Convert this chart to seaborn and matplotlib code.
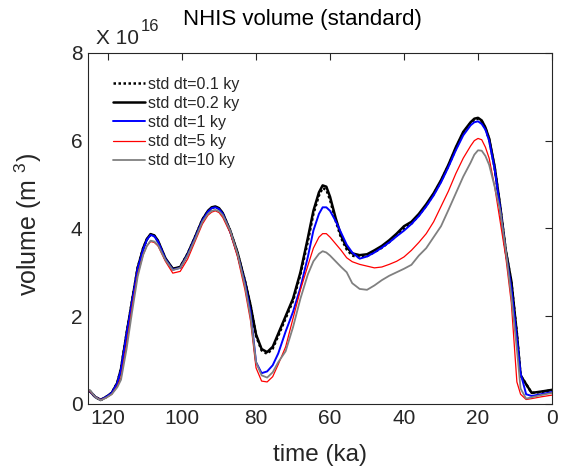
import numpy as np
import pandas as pd
import matplotlib
matplotlib.use("Agg")
import matplotlib.pyplot as plt
import seaborn as sns

# time (ka)
time_ka = [125, 123.5, 122, 120.5, 119, 117.5, 116.5, 115, 113.5, 112,
           110.5, 109.5, 108.5, 107.5, 106.5, 104.5, 102.5, 100.5, 98.5, 96.5,
           94.5, 93, 92, 91, 90, 89, 87, 85, 83, 81.5,
           80, 78.5, 77, 75.5, 74, 72, 70, 68, 66, 64.5,
           63, 62, 61, 60, 58.5, 57, 55.5, 54, 52, 50,
           48, 46, 44, 42, 40, 38, 36, 34, 32, 30,
           28, 26, 24, 22, 21, 20, 19, 18, 17, 15.5,
           14, 12.5, 11, 9.5, 8.5, 7, 5.5, 3, 0]

# volumes (x 1e16 m^3)
std_dt_0_1 = [0.30, 0.16, 0.09, 0.16, 0.25, 0.48, 0.80, 1.60, 2.35, 3.10,
              3.55, 3.75, 3.86, 3.83, 3.70, 3.30, 3.07, 3.12, 3.42, 3.80,
              4.20, 4.39, 4.47, 4.49, 4.45, 4.34, 3.95, 3.43, 2.80, 2.25,
              1.55, 1.22, 1.14, 1.26, 1.55, 1.95, 2.35, 2.95, 3.70, 4.33,
              4.75, 4.92, 4.88, 4.65, 4.18, 3.78, 3.52, 3.38, 3.34, 3.37,
              3.46, 3.56, 3.69, 3.84, 4.00, 4.11, 4.30, 4.52, 4.78, 5.08,
              5.43, 5.82, 6.18, 6.40, 6.48, 6.50, 6.44, 6.28, 6.03, 5.38,
              4.48, 3.48, 2.78, 1.60, 0.65, 0.45, 0.25, 0.27, 0.31]
std_dt_0_2 = [0.30, 0.16, 0.09, 0.16, 0.25, 0.48, 0.80, 1.60, 2.35, 3.10,
              3.55, 3.76, 3.87, 3.84, 3.72, 3.32, 3.08, 3.12, 3.42, 3.80,
              4.20, 4.40, 4.48, 4.50, 4.46, 4.35, 3.95, 3.45, 2.80, 2.25,
              1.58, 1.25, 1.18, 1.30, 1.60, 2.00, 2.40, 3.00, 3.78, 4.40,
              4.82, 4.98, 4.95, 4.72, 4.24, 3.83, 3.57, 3.43, 3.39, 3.41,
              3.50, 3.60, 3.73, 3.88, 4.05, 4.15, 4.33, 4.55, 4.80, 5.10,
              5.45, 5.85, 6.20, 6.42, 6.50, 6.52, 6.46, 6.30, 6.05, 5.40,
              4.50, 3.50, 2.80, 1.60, 0.65, 0.45, 0.25, 0.28, 0.32]
std_dt_1 = [0.30, 0.16, 0.09, 0.16, 0.25, 0.47, 0.78, 1.58, 2.33, 3.08,
            3.52, 3.74, 3.85, 3.82, 3.70, 3.30, 3.06, 3.10, 3.40, 3.78,
            4.18, 4.38, 4.46, 4.48, 4.44, 4.33, 3.93, 3.40, 2.75, 2.10,
            0.95, 0.70, 0.74, 0.88, 1.15, 1.65, 2.10, 2.65, 3.35, 3.95,
            4.33, 4.48, 4.48, 4.40, 4.17, 3.90, 3.63, 3.45, 3.31, 3.36,
            3.45, 3.56, 3.68, 3.82, 3.95, 4.10, 4.28, 4.50, 4.75, 5.05,
            5.40, 5.78, 6.12, 6.35, 6.42, 6.44, 6.38, 6.25, 6.00, 5.35,
            4.45, 3.45, 2.65, 1.50, 0.70, 0.22, 0.18, 0.22, 0.27]
std_dt_5 = [0.30, 0.16, 0.09, 0.14, 0.22, 0.40, 0.60, 1.35, 2.20, 2.95,
            3.40, 3.60, 3.70, 3.68, 3.60, 3.25, 2.98, 3.02, 3.30, 3.70,
            4.10, 4.30, 4.37, 4.40, 4.36, 4.25, 3.90, 3.35, 2.60, 1.90,
            0.82, 0.52, 0.50, 0.62, 0.90, 1.30, 1.95, 2.60, 3.15, 3.55,
            3.80, 3.88, 3.88, 3.80, 3.65, 3.50, 3.33, 3.24, 3.18, 3.14,
            3.10, 3.12, 3.18, 3.25, 3.35, 3.50, 3.68, 3.88, 4.15, 4.50,
            4.85, 5.25, 5.60, 5.88, 6.00, 6.05, 6.02, 5.85, 5.60, 4.95,
            4.15, 3.35, 2.30, 0.50, 0.22, 0.10, 0.12, 0.16, 0.20]
std_dt_10 = [0.32, 0.16, 0.08, 0.14, 0.22, 0.38, 0.55, 1.25, 2.10, 2.90,
             3.40, 3.60, 3.72, 3.70, 3.62, 3.28, 3.05, 3.10, 3.38, 3.75,
             4.15, 4.33, 4.40, 4.42, 4.39, 4.30, 3.95, 3.42, 2.70, 2.00,
             0.95, 0.65, 0.60, 0.72, 0.95, 1.20, 1.75, 2.40, 2.95, 3.25,
             3.42, 3.48, 3.45, 3.38, 3.25, 3.12, 3.00, 2.75, 2.62, 2.60,
             2.70, 2.82, 2.92, 3.00, 3.08, 3.17, 3.38, 3.55, 3.80, 4.05,
             4.42, 4.80, 5.18, 5.50, 5.68, 5.78, 5.77, 5.65, 5.45, 4.95,
             4.40, 3.50, 2.45, 1.25, 0.35, 0.12, 0.15, 0.20, 0.25]

series_labels = ["std dt=0.1 ky", "std dt=0.2 ky", "std dt=1 ky", "std dt=5 ky", "std dt=10 ky"]
series_values = [std_dt_0_1, std_dt_0_2, std_dt_1, std_dt_5, std_dt_10]
colors = ["black", "black", "#0000ff", "#ff0000", "#808080"]
styles = [(0, (1, 1)), "-", "-", "-", "-"]
widths = [1.8, 1.8, 1.4, 0.9, 1.3]

sns.set_style("white")
plt.rcParams["font.family"] = ["Liberation Sans", "DejaVu Sans"]
plt.rcParams["mathtext.default"] = "regular"

fig = plt.figure(figsize=(5.61, 4.68), dpi=100)
ax = fig.add_axes([0.157, 0.137, 0.827, 0.750])

for lab, vals, c, ls, lw in zip(series_labels, series_values, colors, styles, widths):
    df = pd.DataFrame({"time": time_ka, "volume": np.array(vals) * 1e16})
    sns.lineplot(data=df, x="time", y="volume", ax=ax, color=c, linestyle=ls,
                 linewidth=lw, label=lab, sort=False, estimator=None)

ax.set_xlim(125.4, 0)
ax.set_ylim(0, 8e16)
ax.set_xticks([120, 100, 80, 60, 40, 20, 0])
ax.set_yticks([0, 2e16, 4e16, 6e16, 8e16])
ax.set_yticklabels(["0", "2", "4", "6", "8"])
ax.tick_params(direction="in", length=5, width=0.8, top=True, right=True,
               labelsize=15, colors="#262626", pad=4)
for s in ax.spines.values():
    s.set_visible(True)
    s.set_color("#262626")
    s.set_linewidth(0.8)

ax.set_xlabel("time (ka)", fontsize=17.5, color="#262626")
ax.xaxis.set_label_coords(0.5, -0.115)
ax.set_ylabel("volume (m $^{3}$)", fontsize=18, color="#262626")
ax.yaxis.set_label_coords(-0.095, 0.51)
fig.text(302 / 561, 1 - 19 / 468, "NHIS volume (standard)", fontsize=16,
         color="black", ha="center", va="center")
fig.text(0.172, 0.906, "X 10", fontsize=15, color="#262626", va="baseline")
fig.text(0.250, 0.933, "16", fontsize=12, color="#262626", va="baseline")

leg = ax.legend(loc="upper left", frameon=False, fontsize=11.5, handlelength=2.0,
                handletextpad=0.2, labelspacing=0.26, borderaxespad=0, borderpad=0,
                bbox_to_anchor=(0.054, 0.932))

fig.savefig("out.png", dpi=100)
